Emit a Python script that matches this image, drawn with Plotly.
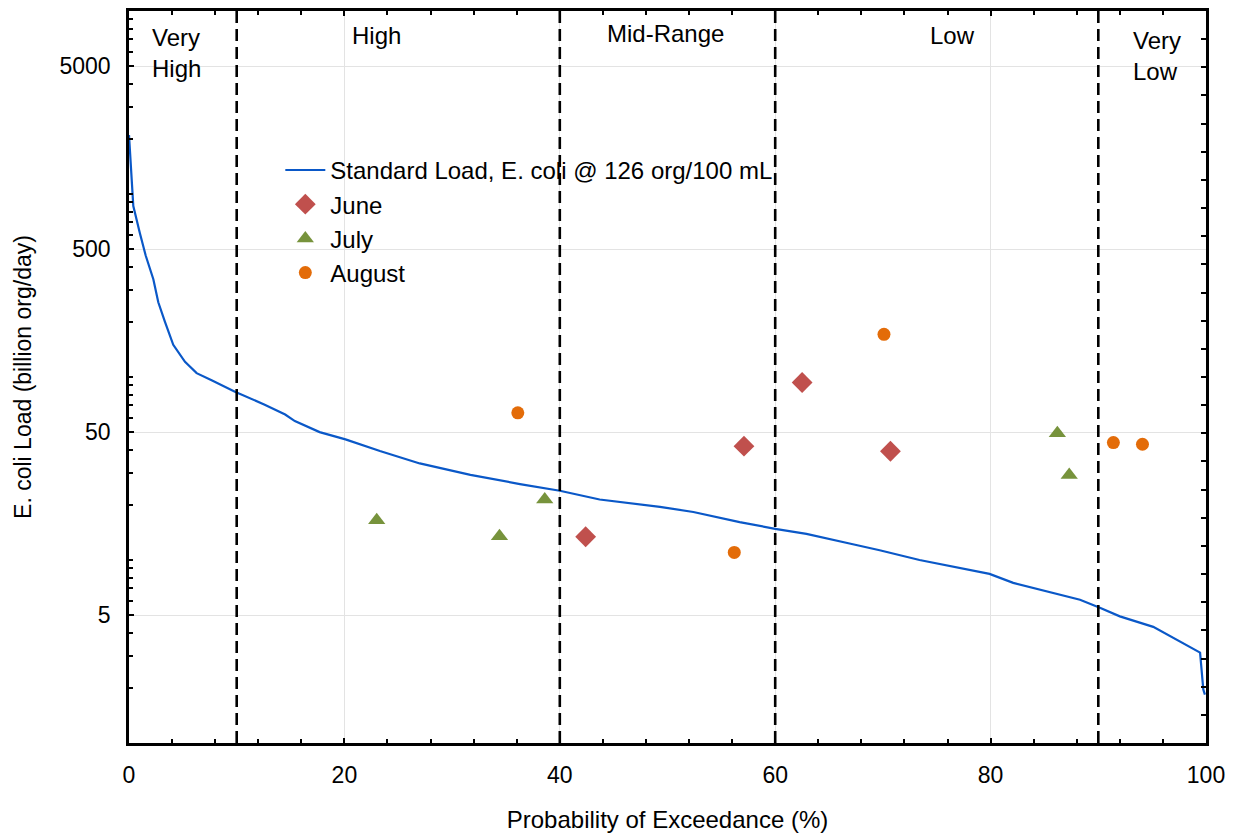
import plotly.graph_objects as go

# ---- data ----
curve_x = [0, 0.4, 1.0, 1.55, 2.26, 2.72, 3.34, 4.11, 5.2, 6.28, 7.67, 9.84, 12.6, 14.5, 15.4,
           17.7, 20.1, 23.3, 27.0, 31.7, 36.3, 40.0, 43.7, 49.3, 52.4, 56.7, 60.0, 62.9, 66.9,
           69.7, 73.4, 79.9, 82.1, 85.5, 88.3, 90.2, 92.0, 95.1, 97.9, 99.45, 99.75, 99.9]
curve_y = [2100, 860, 614, 461, 342, 256, 200, 150, 121, 105, 96, 83, 70.6, 62.4, 57.4,
           50, 45.6, 39.4, 33.7, 29.2, 26, 23.9, 21.4, 19.5, 18.3, 16.1, 14.8, 13.9, 12.3,
           11.3, 10.0, 8.4, 7.5, 6.7, 6.07, 5.47, 4.92, 4.31, 3.5, 3.12, 1.96, 1.84]

june_x = [42.4, 57.1, 62.5, 70.7]
june_y = [13.4, 41.9, 93.3, 39.3]
july_x = [23.0, 34.4, 38.6, 86.2, 87.3]
july_y = [16.5, 13.5, 21.4, 49.2, 29.1]
aug_x = [36.1, 56.2, 70.1, 91.4, 94.1]
aug_y = [63.7, 11.0, 171, 43.8, 42.9]

zone_bounds = [10, 40, 60, 90]
zone_labels = ["Very<br>High", "High", "Mid-Range", "Low", "Very<br>Low"]
zone_label_x = [1.95, 23.0, 49.8, 76.5, 93.0]
zone_label_y = [0.942, 0.966, 0.969, 0.967, 0.938]
zone_label_anchor = ["left", "center", "center", "center", "left"]

y_tickvals = [5, 50, 500, 5000]
y_ticktext = ["5", "50", "500", "5000"]
x_tickvals = [0, 20, 40, 60, 80, 100]

FONT = "Liberation Sans, Arial, sans-serif"

fig = go.Figure()
fig.add_trace(go.Scatter(x=curve_x, y=curve_y, mode="lines",
                         name="Standard Load, E. coli @ 126 org/100 mL",
                         line=dict(color="#0A58C8", width=2.2), legendgroup="a"))
fig.add_trace(go.Scatter(x=june_x, y=june_y, mode="markers", name="June", legendgroup="b",
                         marker=dict(symbol="diamond", size=16, color="#C0504D")))
fig.add_trace(go.Scatter(x=july_x, y=july_y, mode="markers", name="July", legendgroup="c",
                         marker=dict(symbol="triangle-up", size=15, color="#77933C")))
fig.add_trace(go.Scatter(x=aug_x, y=aug_y, mode="markers", name="August", legendgroup="d",
                         marker=dict(symbol="circle", size=13, color="#E36C09")))
# carrier for right-hand tick axis
fig.add_trace(go.Scatter(x=[None], y=[None], yaxis="y2", showlegend=False, hoverinfo="skip"))

for b in zone_bounds:
    fig.add_shape(type="line", x0=b, x1=b, y0=0, y1=1, xref="x", yref="paper",
                  line=dict(color="black", width=2.6, dash="12px,6px"))

for lab, lx, ly, anc in zip(zone_labels, zone_label_x, zone_label_y, zone_label_anchor):
    fig.add_annotation(x=lx, y=ly, xref="x", yref="paper", text=lab, showarrow=False,
                       font=dict(family=FONT, size=24, color="black"), align="left",
                       xanchor=anc, yanchor="middle")

fig.update_layout(
    width=1228, height=828,
    margin=dict(l=121, r=30, t=0, b=93),
    paper_bgcolor="white", plot_bgcolor="white",
    font=dict(family=FONT, size=22, color="black"),
    showlegend=True,
    legend=dict(x=0.1405, y=0.813, xanchor="left", yanchor="top",
                bgcolor="rgba(0,0,0,0)", font=dict(family=FONT, size=24),
                traceorder="grouped", tracegroupgap=0, itemwidth=40),
    xaxis=dict(range=[0, 100], tickvals=x_tickvals, ticks="inside", ticklen=5, tickwidth=2,
               tickcolor="black", showline=True, linecolor="black", linewidth=2.5,
               mirror="ticks", showgrid=True, gridcolor="#E3E3E3", gridwidth=1,
               zeroline=False, tickfont=dict(size=23), ticklabelstandoff=10,
               minor=dict(dtick=4, tick0=0, ticks="inside", ticklen=4, tickwidth=2,
                          tickcolor="black", showgrid=False),
               title=dict(text="Probability of Exceedance (%)", font=dict(size=24), standoff=24)),
    yaxis=dict(type="log", range=[0, 4], tickvals=y_tickvals, ticktext=y_ticktext,
               ticks="inside", ticklen=5, tickwidth=2, tickcolor="black",
               showline=True, linecolor="black", linewidth=2.5, mirror=False,
               showgrid=True, gridcolor="#E3E3E3", gridwidth=1, zeroline=False,
               tickfont=dict(size=23), ticklabelstandoff=11,
               minor=dict(tickvals=[m * 10 ** k for k in range(0, 4) for m in range(1, 10)],
                          ticks="inside", ticklen=4, tickwidth=2, tickcolor="black",
                          showgrid=False),
               title=dict(text="E. coli Load (billion org/day)", font=dict(size=23), standoff=22)),
    yaxis2=dict(overlaying="y", side="right", range=[0, 26], dtick=1, ticks="inside",
                ticklen=5, tickwidth=2, tickcolor="black", showticklabels=False,
                showgrid=False, zeroline=False, showline=True, linecolor="black",
                linewidth=2.5),
)

fig.write_html("out.html")
